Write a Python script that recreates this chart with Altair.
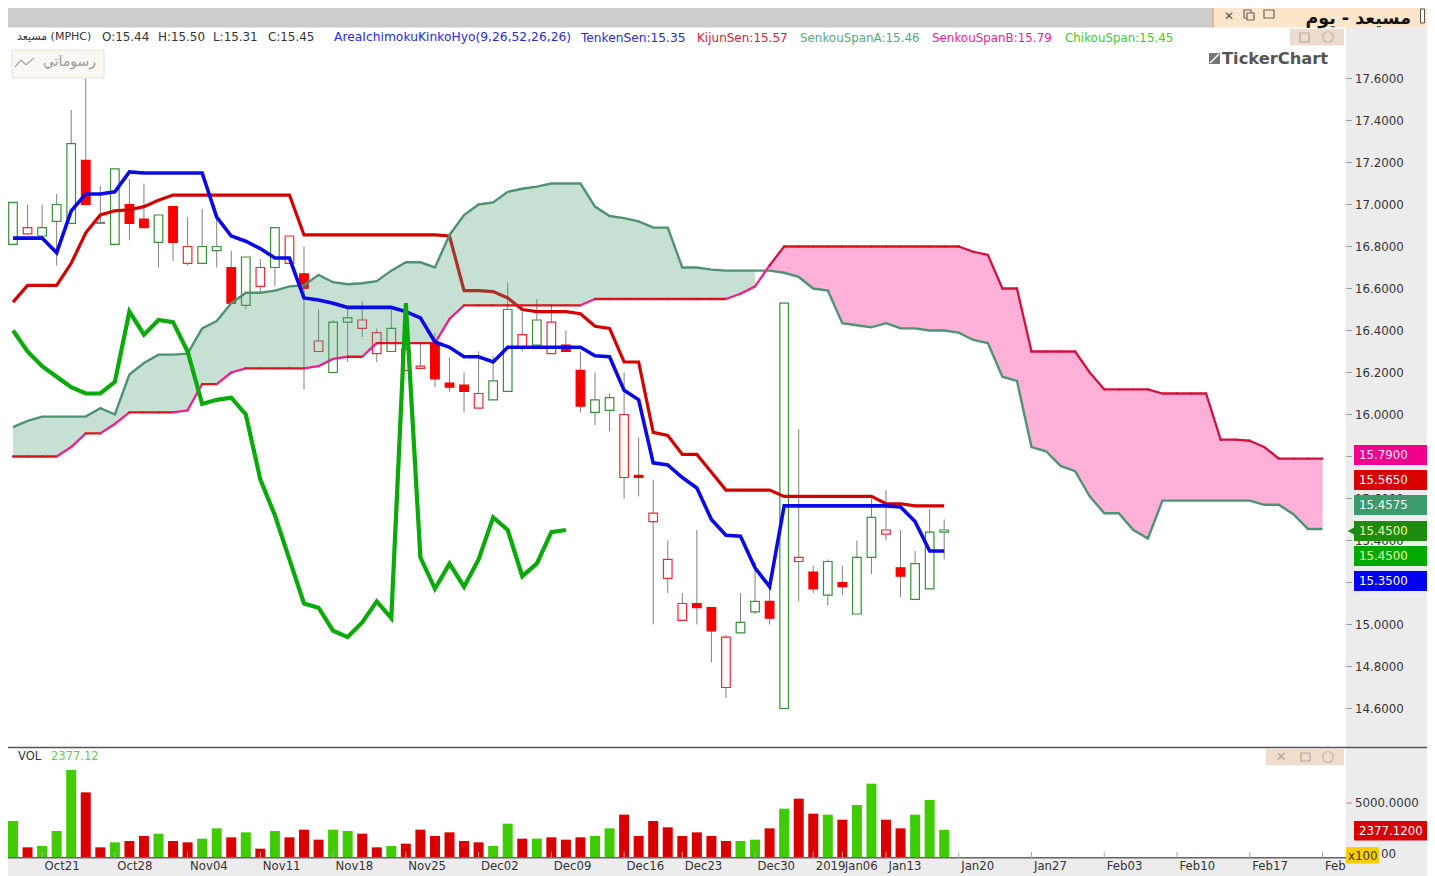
import altair as alt
import pandas as pd

W, H = 1419, 868
DY = 0

# ---------- candles (index 0..64) ----------
kind = list("GRGGGSDGSSGSRGGSGRGRSRGGRRGRRSSSRGGRGRSSGGRSRRRSSRGGSGRSGSGGRSGGG")
body_hi = [17.01,16.89,16.89,17.00,17.29,17.21,16.915,17.17,17.00,16.93,16.95,16.99,16.80,16.80,16.80,16.70,16.75,16.70,16.89,16.85,
           16.67,16.35,16.44,16.46,16.45,16.39,16.41,16.31,16.23,16.34,16.15,16.14,16.10,16.16,16.50,16.38,16.45,16.44,16.33,16.21,
           16.07,16.08,16.00,15.71,15.53,15.31,15.10,15.10,15.08,14.94,15.01,15.11,15.11,16.53,15.32,15.25,15.30,15.20,15.32,15.51,
           15.45,15.27,15.29,15.44,15.45]
body_lo = [16.81,16.86,16.85,16.92,16.91,17.00,16.91,16.81,16.91,16.89,16.82,16.82,16.72,16.72,16.78,16.53,16.52,16.61,16.70,16.72,
           16.60,16.30,16.20,16.44,16.41,16.29,16.30,16.21,16.22,16.17,16.13,16.11,16.03,16.07,16.11,16.32,16.33,16.29,16.30,16.04,
           16.01,16.02,15.70,15.70,15.49,15.22,15.02,15.08,14.97,14.70,14.96,15.06,15.03,14.60,15.30,15.17,15.14,15.18,15.05,15.32,
           15.43,15.23,15.12,15.17,15.44]
wick_hi = [17.01,17.00,17.00,17.05,17.45,17.60,17.09,17.17,17.12,17.10,16.95,16.99,16.94,16.98,16.95,16.78,16.75,16.74,16.89,16.85,
           16.80,16.50,16.45,16.50,16.54,16.41,16.50,16.50,16.34,16.39,16.27,16.20,16.30,16.28,16.63,16.49,16.55,16.52,16.40,16.30,
           16.20,16.10,16.20,15.89,15.69,15.40,15.15,15.45,15.08,14.95,15.15,15.30,15.18,16.53,15.93,15.28,15.31,15.28,15.40,15.60,
           15.64,15.45,15.35,15.55,15.50]
wick_lo = [16.81,16.86,16.85,16.71,16.91,17.00,16.91,16.81,16.83,16.89,16.70,16.73,16.71,16.72,16.70,16.53,16.50,16.58,16.61,16.72,
           16.12,16.30,16.20,16.25,16.37,16.25,16.30,16.21,16.22,16.13,16.11,16.01,16.03,16.07,16.11,16.30,16.33,16.29,16.30,16.01,
           15.95,15.92,15.60,15.61,15.00,15.15,15.02,15.00,14.82,14.65,14.96,15.05,15.00,14.60,15.11,15.15,15.09,15.14,15.05,15.24,
           15.40,15.13,15.12,15.17,15.31]

tenkan = [16.84,16.84,16.84,16.77,16.97,17.05,17.05,17.06,17.155,17.15,17.15,17.15,17.15,17.15,16.94,16.85,16.825,16.79,16.745,16.745,
          16.555,16.545,16.53,16.51,16.51,16.51,16.51,16.49,16.46,16.345,16.32,16.275,16.275,16.25,16.32,16.32,16.32,16.32,16.32,16.32,
          16.28,16.275,16.115,16.07,15.77,15.76,15.70,15.65,15.50,15.425,15.42,15.27,15.18,15.565,15.565,15.565,15.565,15.565,15.565,15.565,
          15.565,15.56,15.49,15.35,15.35]
kijun = [16.535,16.615,16.615,16.615,16.72,16.865,16.95,16.97,16.975,16.99,17.02,17.045,17.045,17.045,17.045,17.045,17.045,17.045,17.045,17.045,
         16.855,16.855,16.855,16.855,16.855,16.855,16.855,16.855,16.855,16.855,16.85,16.59,16.59,16.585,16.555,16.50,16.49,16.49,16.49,16.48,
         16.42,16.41,16.25,16.25,15.915,15.90,15.81,15.81,15.725,15.64,15.64,15.64,15.64,15.61,15.61,15.61,15.61,15.61,15.61,15.61,
         15.575,15.575,15.565,15.565,15.565]
chikou = [16.40,16.30,16.23,16.18,16.13,16.10,16.10,16.155,16.49,16.38,16.45,16.44,16.30,16.05,16.07,16.08,16.00,15.69,15.52,15.31,
          15.10,15.08,14.97,14.94,15.01,15.11,15.03,16.53,15.32,15.17,15.29,15.18,15.31,15.51,15.45,15.23,15.29,15.44,15.45]
span_a = [15.94,15.97,15.99,15.99,15.99,15.99,16.03,16.00,16.19,16.245,16.285,16.285,16.29,16.41,16.445,16.53,16.58,16.58,16.59,16.61,
          16.615,16.665,16.63,16.62,16.625,16.635,16.685,16.725,16.725,16.70,16.855,16.95,17.00,17.01,17.06,17.075,17.085,17.10,17.10,17.10,
          16.99,16.945,16.935,16.92,16.89,16.89,16.70,16.70,16.69,16.685,16.685,16.685,16.685,16.675,16.655,16.60,16.59,16.435,16.425,16.415,
          16.435,16.41,16.41,16.40,16.40,16.39,16.355,16.34,16.18,16.16,15.845,15.825,15.755,15.73,15.61,15.53,15.53,15.45,15.41,15.59,
          15.59,15.59,15.59,15.59,15.59,15.59,15.57,15.57,15.525,15.455,15.455]
span_b = [15.80,15.80,15.80,15.80,15.845,15.91,15.91,15.955,16.01,16.01,16.01,16.01,16.02,16.145,16.145,16.20,16.22,16.22,16.22,16.22,
          16.22,16.23,16.265,16.275,16.275,16.34,16.34,16.34,16.34,16.34,16.455,16.52,16.52,16.52,16.52,16.52,16.52,16.52,16.52,16.52,
          16.55,16.55,16.55,16.55,16.55,16.55,16.55,16.55,16.55,16.55,16.575,16.61,16.71,16.80,16.80,16.80,16.80,16.80,16.80,16.80,
          16.80,16.80,16.80,16.80,16.80,16.80,16.775,16.76,16.60,16.60,16.30,16.30,16.30,16.30,16.20,16.12,16.12,16.12,16.12,16.10,
          16.10,16.10,16.10,15.88,15.88,15.875,15.845,15.79,15.79,15.79,15.79]

volume = [3235,653,784,2254,8235,6045,653,1143,1274,1764,1993,1274,1143,1503,2516,1634,2124,522,2254,1634,
          2385,1405,2385,2254,1993,653,784,1013,2385,1764,2124,1274,1143,784,2973,1503,1503,1634,1405,1634,
          1764,2516,3856,1764,3235,2614,1764,2124,1764,1274,1274,1405,2516,4444,5424,3954,3856,3366,4803,6895,
          3366,2516,3856,5294,2377]
vol_up = list("GRGGGRRGRRGRRGGRGRGRRRGGRRGRRRRRRGGRGRRRGGRRRRRRRRGGRGRRGRGGRRGGG")

tick_idx = [2,7,12,17,22,27,32,37,42,46,51,55,57,60,65,70,75,80,85,90]
tick_lab = ["Oct21","Oct28","Nov04","Nov11","Nov18","Nov25","Dec02","Dec09","Dec16","Dec23","Dec30",
            "2019","Jan06","Jan13","Jan20","Jan27","Feb03","Feb10","Feb17","Feb"]
price_ticks = [17.6,17.4,17.2,17.0,16.8,16.6,16.4,16.2,16.0,15.8,15.6,15.4,15.2,15.0,14.8,14.6]
price_labels = [17.6,17.4,17.2,17.0,16.8,16.6,16.4,16.2,16.0,15.6,15.4,15.0,14.8,14.6]

tag_vals = ["15.7900","15.5650","15.4575","15.4500","15.4500","15.3500"]
tag_cols = ["#f0008c","#d80000","#3c9a6c","#1f8a10","#00aa00","#0000f0"]
tag_txtc = ["#ffe6f4","#ffffff","#f0fff0","#e8ffb0","#e8ffb0","#ffffff"]
tag_mid  = [455,480,505,531,556,581]

# ---------- scales ----------
BAR = 14.55
xs = alt.Scale(domain=[-5/BAR, (W-5)/BAR], nice=False, zero=False, padding=0)
p_top = 17.97381 - 8/210
p_bot = 17.97381 - (8+H)/210
ps = alt.Scale(domain=[p_bot, p_top], nice=False, zero=False)
VK = 5000/51
V0 = 854 + DY
vs = alt.Scale(domain=[(V0-(8+H))*VK, (V0-8)*VK], nice=False, zero=False)
X = alt.X("i:Q", scale=xs, axis=None)

def PY(f): return alt.Y(f + ":Q", scale=ps, axis=None)

# ---------- chrome helpers (page pixel -> chart pixel) ----------
def rect(x0, y0, x1, y1, fill, stroke=None, sw=1):
    kw = dict(fill=fill)
    if stroke:
        kw.update(stroke=stroke, strokeWidth=sw)
    return alt.Chart().mark_rect(**kw).encode(
        x=alt.value(x0-8), x2=alt.value(x1-8), y=alt.value(y0-8), y2=alt.value(y1-8))

def seg(x0, y0, x1, y1, color, sw=1):
    return alt.Chart().mark_rule(color=color, strokeWidth=sw).encode(
        x=alt.value(x0-8), x2=alt.value(x1-8), y=alt.value(y0-8), y2=alt.value(y1-8))

def txt(x, y, s, color="#333333", size=12, align="left", weight="normal", font="DejaVu Sans"):
    return alt.Chart().mark_text(text=s, color=color, fontSize=size, align=align, baseline="middle",
                                 fontWeight=weight, font=font).encode(
        x=alt.value(x-8), y=alt.value(y-8))

# ---------- tables ----------
cd = pd.DataFrame(dict(i=range(65), kind=kind, bh=body_hi, bl=body_lo, wh=wick_hi, wl=wick_lo,
                       tenkan=tenkan, kijun=kijun, vol=volume, up=vol_up))
STROKE = {"G":"#3a8f3a","R":"#f02838","S":"#f80000","D":"#808080"}
FILL   = {"G":"#ffffff","R":"#ffffff","S":"#f80000","D":"#808080"}
cd["st"] = cd.kind.map(STROKE)
cd["fl"] = cd.kind.map(FILL)
cd["vc"] = cd.up.map({"G":"#3fcc04","R":"#d80000"})
ch = pd.DataFrame(dict(i=range(len(chikou)), v=chikou))
sp = pd.DataFrame(dict(i=range(len(span_a)), a=span_a, b=span_b))
seg_rows = []
for k in range(len(span_b)-1):
    flat = abs(span_b[k+1]-span_b[k]) < 0.006
    c = "#d8141e" if flat and k < 65 else ("#ee1e8a" if k < 52 else "#d4103c")
    seg_rows.append(dict(i=k, i2=k+1, y=span_b[k], y2=span_b[k+1], c=c))
sb = pd.DataFrame(seg_rows)
tk = pd.DataFrame(dict(i=tick_idx, lab=tick_lab))
pt = pd.DataFrame(dict(p=price_ticks))
pl = pd.DataFrame(dict(p=price_labels, lab=["%.4f" % v for v in price_labels]))

BOT = 8 + H
RIGHT = 8 + W
BASE = 857.7 + DY
layers = []
# chrome background
layers += [
    rect(8, 8, 1213, 27.5, "#cccccc"),
    rect(1213, 8, RIGHT, 27.5, "#fde5cb"),
    seg(1213, 8, 1213, 27.5, "#f2a878", 1.5),
    rect(1346, 27.5, RIGHT, BOT, "#ececec"),
    rect(8, BASE, 1346, BOT, "#ececec"),
]
# candles
layers.append(alt.Chart(cd).mark_rule(color="#808080", strokeWidth=1).encode(
    x=X, y=PY("wh"), y2=alt.Y2("wl:Q")))
layers.append(alt.Chart(cd).mark_bar(size=8.6, orient="vertical", strokeWidth=1.2).encode(
    x=X, y=PY("bh"), y2=alt.Y2("bl:Q"),
    fill=alt.Fill("fl:N", scale=None), stroke=alt.Stroke("st:N", scale=None)))
# kijun below the cloud
layers.append(alt.Chart(cd).mark_line(color="#d40000", strokeWidth=3.2).encode(x=X, y=PY("kijun")))
# cloud
layers.append(alt.Chart(sp[sp.i <= 51]).mark_area(color="#4d9e78", opacity=0.32).encode(
    x=X, y=PY("a"), y2=alt.Y2("b:Q")))
layers.append(alt.Chart(sp[sp.i >= 52]).mark_area(color="#feb1d8", opacity=1).encode(
    x=X, y=PY("a"), y2=alt.Y2("b:Q")))
layers.append(alt.Chart(sp).mark_line(color="#4f9273", strokeWidth=2.4).encode(x=X, y=PY("a")))
layers.append(alt.Chart(sb).mark_rule(strokeWidth=2.3, strokeCap="round").encode(
    x=X, x2=alt.X2("i2:Q"), y=PY("y"), y2=alt.Y2("y2:Q"), color=alt.Color("c:N", scale=None)))
# tenkan and chikou
layers.append(alt.Chart(cd).mark_line(color="#0a0ae6", strokeWidth=3.6).encode(x=X, y=PY("tenkan")))
layers.append(alt.Chart(ch).mark_line(color="#0aaa0a", strokeWidth=4.2).encode(x=X, y=PY("v")))
# volume
layers.append(alt.Chart(cd).mark_bar(size=10, orient="vertical").encode(
    x=X, y=alt.Y("vol:Q", scale=vs, axis=None), y2=alt.Y2Datum(-343),
    color=alt.Color("vc:N", scale=None)))

# panel lines, axis ticks
layers += [
    seg(8, 747.5, RIGHT, 747.5, "#555555", 1.6),
    seg(8, BASE, 1346, BASE, "#666666", 1.6),
]
layers.append(alt.Chart(tk).mark_rule(color="#aaaaaa", strokeWidth=1).encode(
    x=X, y=alt.value(BASE-6-8), y2=alt.value(BASE-8)))
layers.append(alt.Chart(tk).mark_text(align="left", baseline="middle", dx=2.5, font="DejaVu Sans",
                                      fontSize=11.7, color="#333333").encode(
    x=X, y=alt.value(866-8), text="lab:N"))
# price axis
layers.append(alt.Chart(pt).mark_rule(color="#9a9a9a", strokeWidth=1).encode(
    x=alt.value(1346-8), x2=alt.value(1352-8), y=PY("p")))
layers.append(alt.Chart(pl).mark_text(align="left", baseline="middle", font="DejaVu Sans",
                                      fontSize=11.8, color="#333333").encode(
    x=alt.value(1355-8), y=PY("p"), text="lab:N"))
# price tags
for v, c, tc, m in zip(tag_vals, tag_cols, tag_txtc, tag_mid):
    layers.append(rect(1354, m-10, 1427, m+10, c))
    layers.append(txt(1359, m, v, tc, 11.8))
layers.append(alt.Chart().mark_point(shape="triangle-left", filled=True, color="#1f8a10", size=150, opacity=1).encode(
    x=alt.value(1353-8), y=alt.value(531-8)))

# volume axis
layers += [
    seg(1346, 803+DY, 1352, 803+DY, "#9a9a9a"),
    txt(1355, 803+DY, "5000.0000", "#333333", 11.8),
    rect(1354, 821+DY, 1427, 840.5+DY, "#d80000"),
    txt(1359, 830.5+DY, "2377.1200", "#ffffff", 11.8),
    rect(1346, 847+DY, 1379, 863.5+DY, "#ffcc00"),
    txt(1348, 855.5+DY, "x100", "#333333", 11.8),
    txt(1381, 854+DY, "00", "#333333", 11.8),
]

# legend row
layers += [
    txt(17, 37, "مسيعد (MPHC)", "#333333", 11),
    txt(102, 36.5, "O:15.44", "#333333", 11.9),
    txt(158, 36.5, "H:15.50", "#333333", 11.9),
    txt(213, 36.5, "L:15.31", "#333333", 11.9),
    txt(268, 36.5, "C:15.45", "#333333", 11.9),
    txt(334, 36.5, "AreaIchimokuKinkoHyo(9,26,52,26,26)", "#2a2ae0", 12.3),
    txt(581, 37.5, "TenkenSen:15.35", "#2a2ae0", 12.2),
    txt(697, 37.5, "KijunSen:15.57", "#d8203c", 12),
    txt(800, 37.5, "SenkouSpanA:15.46", "#5aa583", 11.9),
    txt(932, 37.5, "SenkouSpanB:15.79", "#ee1c90", 11.9),
    txt(1065, 37.5, "ChikouSpan:15.45", "#44c82c", 11.9),
    txt(18, 757, "VOL", "#333333", 11.5),
    txt(51, 757, "2377.12", "#66cc44", 11.5),
]
# title tab
layers += [
    txt(1411, 18.5, "مسيعد - يوم", "#111111", 17.5, align="right", weight="bold"),
    rect(1420.5, 9, 1424.5, 23, "#ffffff", "#555555", 1),
    txt(1229, 16, "✕", "#555555", 12, align="center"),
    rect(1244, 10, 1251, 18, "#fde5cb", "#666666", 1.2),
    rect(1247, 13, 1254, 20, "#fde5cb", "#666666", 1.2),
    rect(1264, 10, 1274, 18, "#fde5cb", "#666666", 1.2),
]
# panel buttons
layers += [
    rect(1290, 29, 1344, 45.5, "#ecdcd0"),
    rect(1300, 33, 1309, 42, "#ecdcd0", "#b0a8a0", 1.2),
    alt.Chart().mark_point(shape="circle", color="#b0a8a0", size=110, strokeWidth=1.2).encode(
        x=alt.value(1328-8), y=alt.value(37-8)),
    rect(1266, 749, 1344, 765, "#f2dccb"),
    txt(1281, 757, "✕", "#b0a8a0", 13, align="center"),
    rect(1301, 753, 1310, 761, "#f2dccb", "#b0a8a0", 1.2),
    alt.Chart().mark_point(shape="circle", color="#b0a8a0", size=110, strokeWidth=1.2).encode(
        x=alt.value(1328-8), y=alt.value(757-8)),
]
# my-drawings box
layers += [
    rect(12, 50, 104, 78, "#faf6f2", "#ecdfd6", 1),
    txt(96, 62, "رسوماتي", "#9a9a9a", 14, align="right"),
    seg(15, 67, 21, 60, "#aaaaaa", 1.2),
    seg(21, 60, 26, 65, "#aaaaaa", 1.2),
    seg(26, 65, 34, 58, "#aaaaaa", 1.2),
]
# logo
layers += [
    rect(1209, 53, 1220, 64, "#777777"),
    seg(1210, 63, 1219, 54, "#ffffff", 1.4),
    txt(1222, 58.5, "TickerChart", "#555555", 16.3, weight="bold"),
]

chart = (alt.layer(*layers)
         .resolve_scale(y="independent")
         .properties(width=W, height=H, padding=0, background="#ffffff",
                     autosize=alt.AutoSizeParams(type="none", contains="padding"))
         .configure_view(stroke=None))
chart.save("out.html", embed_options={"renderer": "svg", "actions": False})
